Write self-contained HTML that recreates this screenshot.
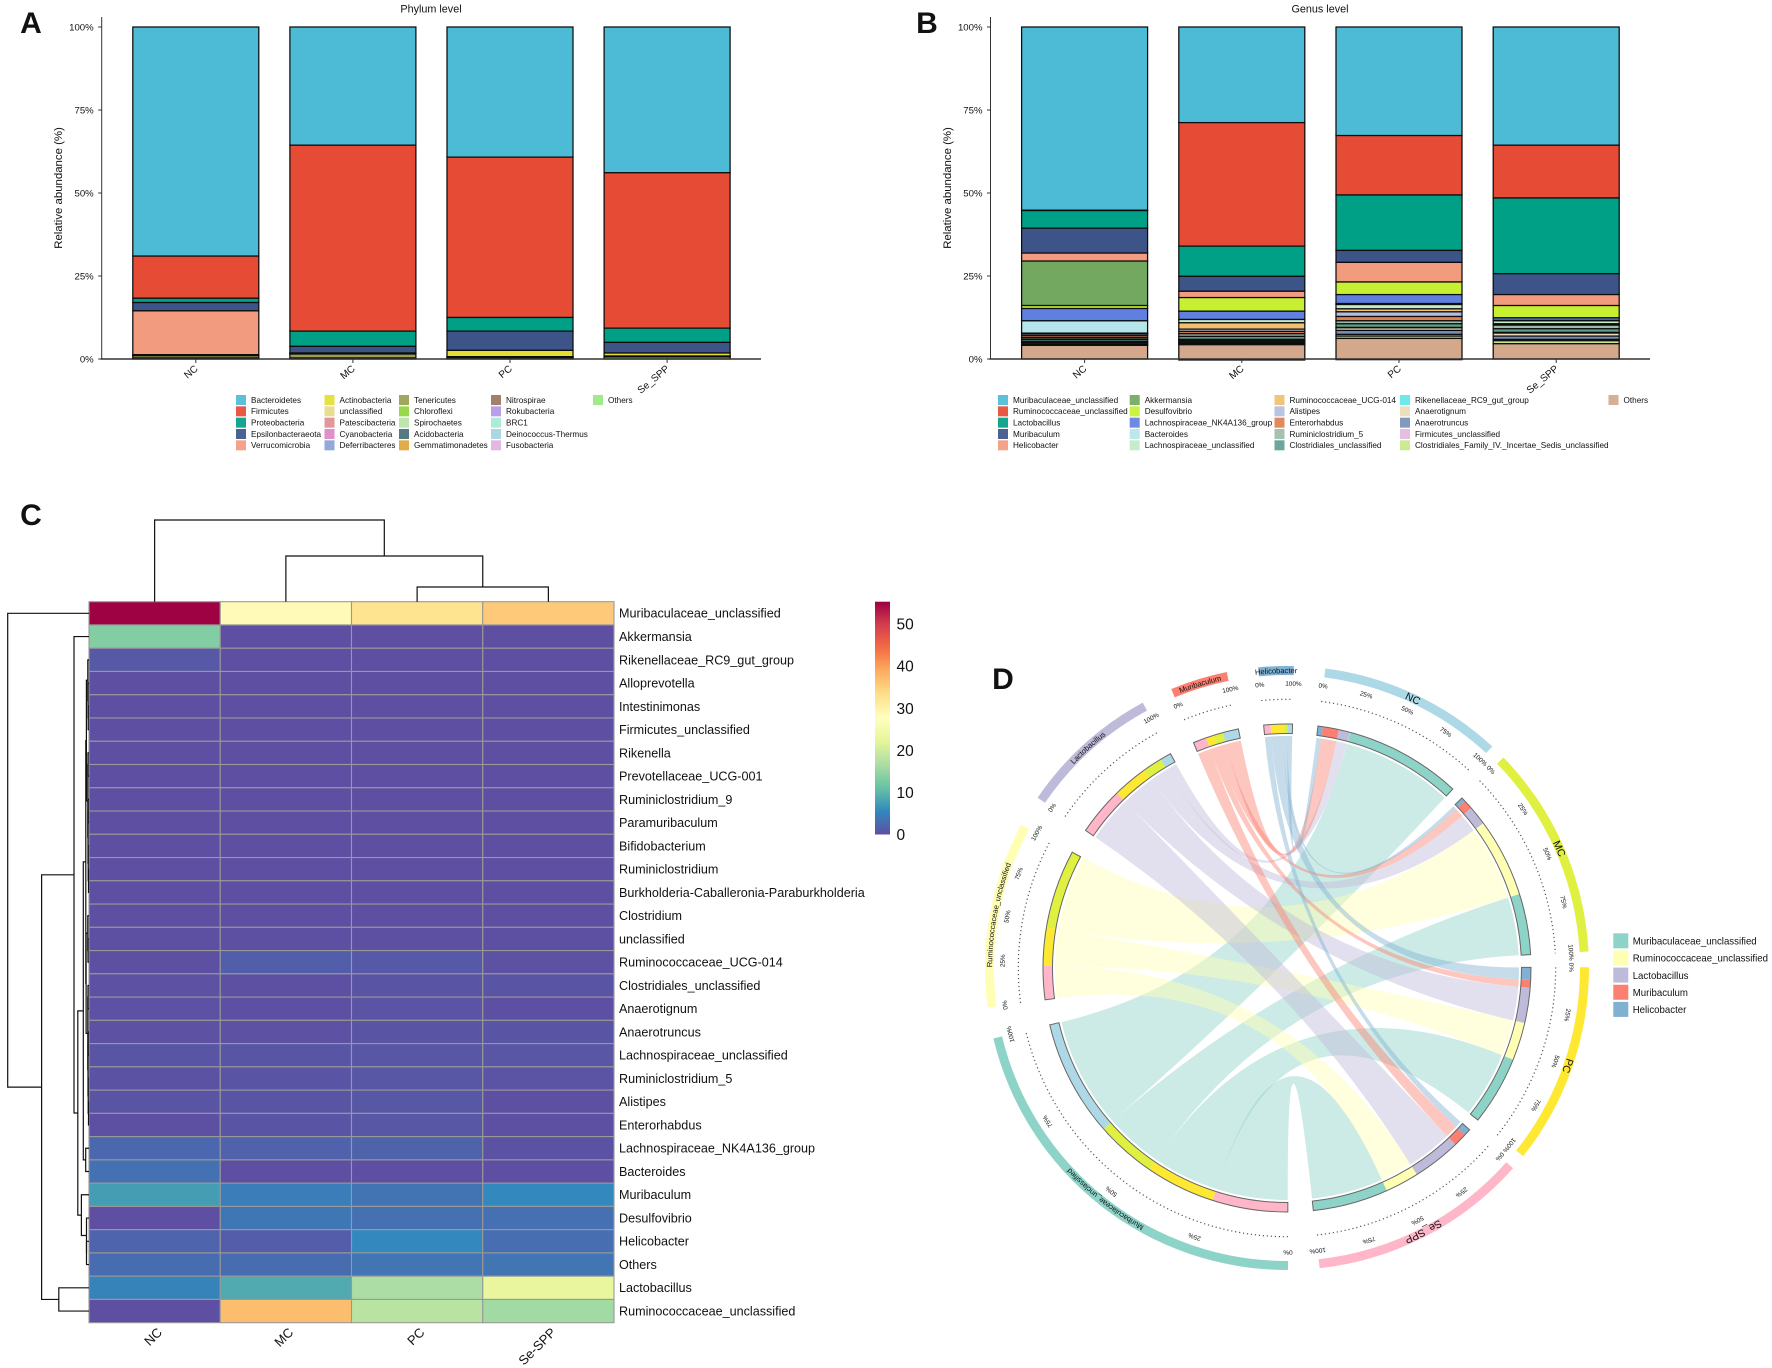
<!DOCTYPE html>
<html lang="en">
<head>
<meta charset="utf-8">
<title>Gut microbiota composition panels</title>
<style>
  html, body { margin: 0; padding: 0; background: #fff; }
  svg { display: block; font-family: "Liberation Sans", sans-serif; }
  text { fill: #111; }
</style>
</head>
<body>
<svg id="fig" xmlns="http://www.w3.org/2000/svg" width="1772" height="1368" viewBox="0 0 1772 1368">
  <rect width="1772" height="1368" fill="#fff"/>
  <defs id="defs"></defs>
  <text x="31" y="33" font-size="30" font-weight="bold" text-anchor="middle">A</text>
  <text x="927" y="33" font-size="30" font-weight="bold" text-anchor="middle">B</text>
  <text x="31" y="525" font-size="30" font-weight="bold" text-anchor="middle">C</text>
  <text x="1003" y="689" font-size="30" font-weight="bold" text-anchor="middle">D</text>
  <g id="panelA"></g>
  <g id="panelB"></g>
  <g id="panelC"></g>
  <g id="panelD"></g>
</svg>
<script>
/* ---------- Stacked bar data ---------- */
const sampleLabels = ['NC', 'MC', 'PC', 'Se_SPP'];
const percentTicks = [0, 25, 50, 75, 100];

const phylumNames = ['Bacteroidetes','Firmicutes','Proteobacteria','Epsilonbacteraeota','Verrucomicrobia','Actinobacteria','unclassified','Patescibacteria','Cyanobacteria','Deferribacteres','Tenericutes','Chloroflexi','Spirochaetes','Acidobacteria','Gemmatimonadetes','Nitrospirae','Rokubacteria','BRC1','Deinococcus-Thermus','Fusobacteria','Others'];
const phylumColors = ['#4DBBD5','#E64B35','#00A087','#3C5488','#F39B7F','#E3DE30','#E6DB8A','#E08E90','#DE86C6','#8AA2D6','#9A9F50','#8FD63C','#B8E2A8','#466F78','#DDA63A','#9A7560','#B596E8','#A2EBD5','#A5D3E3','#E0B2DD','#9AE87F'];
const phylumNC = [69.0,12.7,1.3,2.5,13.2,0.1,0.05,0.05,0,0.1,0.7,0,0.1,0,0,0,0,0,0,0,0.2];
const phylumMC = [35.6,56.0,4.6,2.0,0,0.1,0,0.1,0,0.1,1.2,0,0.1,0,0,0,0,0,0,0,0.2];
const phylumPC = [39.2,48.3,4.1,5.8,0,1.9,0,0,0,0.1,0.1,0,0.1,0,0,0,0,0,0,0,0.4];
const phylumSe = [43.9,46.8,4.3,3.2,0,0.9,0,0,0,0.1,0.1,0,0.1,0,0,0,0,0,0,0,0.6];

const genusNames = ['Muribaculaceae_unclassified','Ruminococcaceae_unclassified','Lactobacillus','Muribaculum','Helicobacter','Akkermansia','Desulfovibrio','Lachnospiraceae_NK4A136_group','Bacteroides','Lachnospiraceae_unclassified','Ruminococcaceae_UCG-014','Alistipes','Enterorhabdus','Ruminiclostridium_5','Clostridiales_unclassified','Rikenellaceae_RC9_gut_group','Anaerotignum','Anaerotruncus','Firmicutes_unclassified','Clostridiales_Family_IV._Incertae_Sedis_unclassified','Others'];
const genusColors = ['#4DBBD5','#E64B35','#00A087','#3C5488','#F39B7F','#72A85F','#C7F032','#6080E0','#B4E6EC','#C0ECC8','#F0C070','#B0C0E0','#E07F50','#A0BCA8','#5FA090','#60E8E8','#EADCB8','#7890B8','#E4B8E0','#C8E888','#D4A88A'];
const genusNC = [55.2,0.1,5.3,7.5,2.4,13.4,0.9,3.7,3.7,0.2,0.1,0.5,0.6,0.5,0.6,0.2,0.2,0.4,0.3,0.1,4.1];
const genusMC = [28.8,37.2,9.1,4.5,1.9,0,4.1,2.5,0,1.0,1.9,0.7,0.7,0.8,0.9,0.2,0.3,0.4,0.3,0.4,4.6];
const genusPC = [32.7,17.9,16.7,3.6,5.9,0,3.8,2.7,0.3,1.3,0.9,1.4,1.3,0.9,1.1,0.1,0.8,1.2,0.5,0.7,6.4];
const genusSe = [35.6,15.9,22.8,6.3,3.3,0,3.7,0.8,0.1,0.9,0.2,0.1,0.1,1.1,1.1,0.2,0.9,1.0,0.4,0.9,4.6];

/* ---------- Heatmap data ---------- */
const heatRowNames = ['Muribaculaceae_unclassified','Akkermansia','Rikenellaceae_RC9_gut_group','Alloprevotella','Intestinimonas','Firmicutes_unclassified','Rikenella','Prevotellaceae_UCG-001','Ruminiclostridium_9','Paramuribaculum','Bifidobacterium','Ruminiclostridium','Burkholderia-Caballeronia-Paraburkholderia','Clostridium','unclassified','Ruminococcaceae_UCG-014','Clostridiales_unclassified','Anaerotignum','Anaerotruncus','Lachnospiraceae_unclassified','Ruminiclostridium_5','Alistipes','Enterorhabdus','Lachnospiraceae_NK4A136_group','Bacteroides','Muribaculum','Desulfovibrio','Helicobacter','Others','Lactobacillus','Ruminococcaceae_unclassified'];
const heatColNames = ['NC', 'MC', 'PC', 'Se-SPP'];
const heatNC = [55.2,13.4,0.9,0,0,0,0,0,0,0,0,0,0,0,0.1,0.1,0.2,0.2,0.2,0.6,0.3,0.5,0.1,2.4,3.3,7.5,0,2.0,2.9,5.0,0];
const heatMC = [28.5,0,0,0,0,0,0,0,0,0,0,0,0,0,0.1,1.5,0.1,0.1,0.2,0.6,0.5,0.5,0.5,1.8,0,4.5,3.9,1.4,2.9,8.8,37.0];
const heatPC = [32.7,0,0,0,0,0,0,0,0,0,0,0,0,0,0.1,1.0,0.5,0.4,0.5,0.8,0.8,0.8,0.8,1.9,0,3.5,3.2,5.6,3.7,16.6,17.9];
const heatSe = [35.6,0,0,0,0,0,0,0,0,0,0,0,0,0,0.1,0.2,0.5,0.1,0.5,0.7,0.4,0.1,0.1,0.3,0,5.6,3.2,3.0,3.7,22.8,15.9];
const heatLegendTicks = [0, 10, 20, 30, 40, 50];
const heatMax = 55.3;
const spectralStops = ['#5E4FA2','#3288BD','#66C2A5','#ABDDA4','#E6F598','#FFFFBF','#FEE08B','#FDAE61','#F46D43','#D53E4F','#9E0142'];

/* Dendrograms: [merge distance, childA, childB]; a bare number is a leaf index */
const colTree = [81.7, 0, [45.7, 1, [14.7, 2, 3]]];
const rowGroupSmall = [3.2,
  [2.6, [1.2, 2, [1.0, 3, [0.8, 4, 5]]], [1.2, [1, 6, 7], [1, [0.8, 8, 9], [0.8, 10, [0.5, 11, 12]]]]],
  [2.9, [1.2, 13, [1, 14, 15]], [1.2, [1, 16, 17], [1, [0.8, 18, 19], [0.8, 20, [0.5, 21, 22]]]]]];
const rowTree = [81.3, 0, [47.4, [15, 1, [11.2, [5.7, rowGroupSmall, [3.3, 23, 24]], [7.6, 25, [2.5, 26, [2.5, 27, 28]]]]], [30.2, 29, 30]]];

/* ---------- Chord data (same relative abundances as panel B) ---------- */
const chordGroups = ['NC', 'MC', 'PC', 'Se_SPP'];
const chordGenera = ['Muribaculaceae_unclassified','Ruminococcaceae_unclassified','Lactobacillus','Muribaculum','Helicobacter'];
const chordMuribaculaceae = [55.2, 28.8, 32.7, 35.6];
const chordRuminococcaceae = [0.1, 37.2, 17.9, 15.9];
const chordLactobacillus = [5.3, 9.1, 16.7, 22.8];
const chordMuribaculum = [7.5, 4.5, 3.6, 6.3];
const chordHelicobacter = [2.4, 1.9, 5.9, 3.3];
const chordGroupColors = ['#ADD8E6', '#DFF040', '#FFE832', '#FFB6C8'];
const chordGenusColors = ['#8DD3C7', '#FFFFB3', '#BEBADA', '#FB8072', '#80B1D3'];

/* ---------- Helpers ---------- */
const NS = 'http://www.w3.org/2000/svg';
function mk(tag, attrs, parent, txt) {
  const e = document.createElementNS(NS, tag);
  for (const k in attrs) e.setAttribute(k, attrs[k]);
  if (txt !== undefined) e.textContent = txt;
  if (parent) parent.appendChild(e);
  return e;
}
const slug = s => String(s).toLowerCase().replace(/[^a-z0-9]+/g, '-').replace(/^-|-$/g, '');

/* ---------- Panels A & B ---------- */
const yTop = 27, yBottom = 359;
const yPct = p => yBottom - (p / 100) * (yBottom - yTop);

function drawStackPanel(root, o) {
  const xBar = i => o.barStart + i * o.barStep + o.barWidth / 2;

  const title = mk('text', {x: o.titleX, y: 12.5, 'font-size': 10.8, 'text-anchor': 'middle'}, root, o.title);
  
  

  o.samples.forEach((vals, i) => {
    let cum = 100;
    vals.forEach((v, s) => {
      const rect = mk('rect', {x: xBar(i) - o.barWidth / 2, y: yPct(cum), width: o.barWidth, height: yPct(cum - v) - yPct(cum), fill: o.colors[s], stroke: '#0c0c0c', 'stroke-width': 1.25}, root);
      
      
      cum -= v;
    });
  });

  const yAxis = mk('line', {x1: o.axisX, x2: o.axisX, y1: 17, y2: yBottom, stroke: '#333', 'stroke-width': 1}, root);
  
  
  const xAxis = mk('line', {x1: o.axisX - 1, x2: o.axisEnd, y1: yBottom, y2: yBottom, stroke: '#333', 'stroke-width': 1.6}, root);
  
  

  percentTicks.forEach(t => {
    const tk = mk('line', {x1: o.axisX - 3.5, x2: o.axisX, y1: yPct(t), y2: yPct(t), stroke: '#333', 'stroke-width': 1}, root);
    
    
    const lb = mk('text', {x: o.axisX - 8, y: yPct(t), dy: '.35em', 'font-size': 9.6, 'text-anchor': 'end'}, root, t + '%');
    
    
  });

  const yt = mk('text', {transform: 'translate(' + o.yTitleX + ',188) rotate(-90)', 'font-size': 11.4, 'text-anchor': 'middle', dy: '.35em', fill: '#222'}, root, 'Relative abundance (%)');
  
  

  sampleLabels.forEach((lab, i) => {
    const tk = mk('line', {x1: xBar(i), x2: xBar(i), y1: yBottom, y2: yBottom + 4, stroke: '#333', 'stroke-width': 1}, root);
    
    
    const lb = mk('text', {transform: 'translate(' + (xBar(i) + 0.5) + ',367) rotate(-40)', dy: '.35em', 'font-size': 10, 'text-anchor': 'end'}, root, lab);
    
    
  });

  o.names.forEach((n, s) => {
    const col = Math.floor(s / 5), row = s % 5;
    const cy = 400 + row * 11.33;
    const sw = mk('rect', {x: o.legendX[col], y: cy - 5, width: 10, height: 10, fill: o.colors[s], opacity: 0.92}, root);
    
    
    const tx = mk('text', {x: o.legendX[col] + 15, y: cy, dy: '.35em', 'font-size': 8.2}, root, n);
    
    
  });
}

drawStackPanel(document.getElementById('panelA'), {
  title: 'Phylum level', titleX: 431, names: phylumNames, colors: phylumColors,
  samples: [phylumNC, phylumMC, phylumPC, phylumSe],
  barStart: 132.8, barStep: 157.1, barWidth: 126, axisX: 101.7, axisEnd: 761, yTitleX: 58,
  legendX: [236, 324.5, 399, 491, 593]
});
drawStackPanel(document.getElementById('panelB'), {
  title: 'Genus level', titleX: 1320, names: genusNames, colors: genusColors,
  samples: [genusNC, genusMC, genusPC, genusSe],
  barStart: 1021.6, barStep: 157.2, barWidth: 126, axisX: 990.5, axisEnd: 1650, yTitleX: 947,
  legendX: [998, 1129.7, 1274.5, 1400, 1608.5]
});

/* ---------- Panel C ---------- */
const hmLeft = 89, hmRight = 614, hmTop = 601.7, hmBottom = 1322.7;
const heatCols = [heatNC, heatMC, heatPC, heatSe];
const rowH = (hmBottom - hmTop) / heatRowNames.length;
const colW = (hmRight - hmLeft) / heatColNames.length;
const rowY = i => hmTop + rowH * (i + 0.5);
const colX = i => hmLeft + colW * (i + 0.5);

function hexRgb(h) { return [1, 3, 5].map(i => parseInt(h.substr(i, 2), 16)); }
function heatColor(v) {
  const t = Math.max(0, Math.min(1, v / heatMax)) * (spectralStops.length - 1);
  const i = Math.min(Math.floor(t), spectralStops.length - 2);
  const a = hexRgb(spectralStops[i]), b = hexRgb(spectralStops[i + 1]), f = t - i;
  return 'rgb(' + a.map((c, k) => Math.round(c + (b[k] - c) * f)).join(',') + ')';
}

(function drawHeat() {
  const root = document.getElementById('panelC');

  heatRowNames.forEach((name, r) => {
    heatCols.forEach((col, c) => {
      const cell = mk('rect', {x: hmLeft + c * colW, y: hmTop + r * rowH, width: colW, height: rowH, fill: heatColor(col[r]), stroke: '#999', 'stroke-width': 1.1}, root);
      
      
    });
    const lb = mk('text', {x: 619, y: rowY(r), dy: '.35em', 'font-size': 12.6}, root, name);
    
    
  });

  heatColNames.forEach((name, c) => {
    const lb = mk('text', {transform: 'translate(' + (colX(c) + 5) + ',1330) rotate(-45)', dy: '.35em', 'font-size': 13, 'text-anchor': 'end'}, root, name);
    
    
  });

  function treeLine(d, nm) {
    const p = mk('path', {d: d, fill: 'none', stroke: '#111', 'stroke-width': 1.2}, root);
    
    
  }
  function walkCol(n) {
    if (typeof n === 'number') return {x: colX(n), y: hmTop};
    const a = walkCol(n[1]), b = walkCol(n[2]);
    const y = hmTop - n[0];
    treeLine('M' + a.x + ' ' + a.y + 'V' + y + 'H' + b.x + 'V' + b.y, 'column-dendrogram-branch');
    return {x: (a.x + b.x) / 2, y: y};
  }
  function walkRow(n) {
    if (typeof n === 'number') return {x: hmLeft, y: rowY(n)};
    const a = walkRow(n[1]), b = walkRow(n[2]);
    const x = hmLeft - n[0];
    treeLine('M' + a.x + ' ' + a.y + 'H' + x + 'V' + b.y + 'H' + b.x, 'row-dendrogram-branch');
    return {x: x, y: (a.y + b.y) / 2};
  }
  walkCol(colTree);
  walkRow(rowTree);

  const defs = document.getElementById('defs');
  const grad = mk('linearGradient', {id: 'heatGrad', x1: 0, x2: 0, y1: 1, y2: 0}, defs);
  spectralStops.forEach((c, i) => mk('stop', {offset: i / (spectralStops.length - 1), 'stop-color': c}, grad));
  const cbTop = 601.7, cbBottom = 834.5;
  const bar = mk('rect', {x: 875, y: cbTop, width: 15, height: cbBottom - cbTop, fill: 'url(#heatGrad)'}, root);
  
  
  heatLegendTicks.forEach(t => {
    const y = cbBottom - (t / heatMax) * (cbBottom - cbTop);
    const lb = mk('text', {x: 896.5, y: y, dy: '.36em', 'font-size': 15.5}, root, String(t));
    
    
  });
})();

/* ---------- Panel D ---------- */
(function drawChord() {
  const root = document.getElementById('panelD');
  const defs = document.getElementById('defs');
  const cx = 1287, cy = 968;
  const matrix = [chordMuribaculaceae, chordRuminococcaceae, chordLactobacillus, chordMuribaculum, chordHelicobacter];
  const sum = a => a.reduce((s, v) => s + v, 0);
  const groupTotals = chordGroups.map((_, g) => sum(matrix.map(r => r[g])));
  const genusTotals = matrix.map(sum);
  const sectors = [];
  chordGroups.forEach((n, i) => sectors.push({name: n, total: groupTotals[i], color: chordGroupColors[i], kind: 'group', idx: i, gap: i < 3 ? 3 : 6, big: true, fs: 10.5}));
  chordGenera.forEach((n, i) => sectors.push({name: n, total: genusTotals[i], color: chordGenusColors[i], kind: 'genus', idx: i, gap: 6, big: i < 2, fs: i < 1 ? 7.4 : 7.6}));
  const totalGap = sectors.reduce((s, x) => s + x.gap, 0);
  const totalUnits = sum(sectors.map(s => s.total));
  const dpu = (360 - totalGap) / totalUnits;
  let ang = 277.3;
  sectors.forEach(s => { s.a0 = ang; s.a1 = ang + s.total * dpu; ang = s.a1 + s.gap; });

  const pt = (deg, r) => { const t = deg * Math.PI / 180; return [cx + r * Math.cos(t), cy + r * Math.sin(t)]; };
  const f = v => v.toFixed(2);
  const arcTo = (a0, a1, r) => { const p = pt(a1, r); return 'A' + r + ' ' + r + ' 0 ' + ((a1 - a0) > 180 ? 1 : 0) + ' 1 ' + f(p[0]) + ' ' + f(p[1]); };
  function band(a0, a1, r0, r1) {
    const p0 = pt(a0, r1), p1 = pt(a1, r0);
    const back = pt(a0, r0);
    return 'M' + f(p0[0]) + ' ' + f(p0[1]) + arcTo(a0, a1, r1) + 'L' + f(p1[0]) + ' ' + f(p1[1]) + 'A' + r0 + ' ' + r0 + ' 0 ' + ((a1 - a0) > 180 ? 1 : 0) + ' 0 ' + f(back[0]) + ' ' + f(back[1]) + 'Z';
  }

  /* allocate sub-sector angles */
  const groupSeg = sectors.slice(0, 4).map(s => {
    const out = {}; let a = s.a0;
    [4, 3, 2, 1, 0].forEach(g => { const w = matrix[g][s.idx] * dpu; out[g] = [a, a + w]; a += w; });
    return out;
  });
  const genusSeg = sectors.slice(4).map(s => {
    const out = {}; let a = s.a0;
    [3, 2, 1, 0].forEach(g => { const w = matrix[s.idx][g] * dpu; out[g] = [a, a + w]; a += w; });
    return out;
  });

  /* chords */
  const rc = 232;
  matrix.forEach((row, g) => {
    row.forEach((v, s) => {
      const A = groupSeg[s][g], B = genusSeg[g][s];
      const p0 = pt(A[0], rc), b0 = pt(B[0], rc);
      const d = 'M' + f(p0[0]) + ' ' + f(p0[1]) + arcTo(A[0], A[1], rc) +
        'Q' + cx + ' ' + cy + ' ' + f(b0[0]) + ' ' + f(b0[1]) + arcTo(B[0], B[1], rc) +
        'Q' + cx + ' ' + cy + ' ' + f(p0[0]) + ' ' + f(p0[1]) + 'Z';
      const ch = mk('path', {d: d, fill: chordGenusColors[g], 'fill-opacity': 0.45}, root);
      
      
    });
  });

  /* tracks */
  sectors.forEach((s, si) => {
    if (s.kind === 'group') {
      [4, 3, 2, 1, 0].forEach(g => {
        const a = groupSeg[s.idx][g];
        const seg = mk('path', {d: band(a[0], a[1], 234.5, 244), fill: chordGenusColors[g]}, root);
        
        
      });
    } else {
      [3, 2, 1, 0].forEach(g => {
        const a = genusSeg[s.idx][g];
        const seg = mk('path', {d: band(a[0], a[1], 234.5, 244), fill: chordGroupColors[g]}, root);
        
        
      });
    }
    const outline = mk('path', {d: band(s.a0, s.a1, 234.5, 244), fill: 'none', stroke: '#666', 'stroke-width': 1}, root);
    
    

    /* dotted axis */
    const ds = pt(s.a0, 268.7);
    const dots = mk('path', {d: 'M' + f(ds[0]) + ' ' + f(ds[1]) + arcTo(s.a0, s.a1, 268.7), fill: 'none', stroke: '#555', 'stroke-width': 1.2, 'stroke-dasharray': '1.2 2.8'}, root);
    
    

    /* tick labels */
    const sectorTicks = (s.big) ? percentTicks : [0, 100];
    sectorTicks.forEach(t => {
      const a = s.a0 + (s.a1 - s.a0) * t / 100;
      const p = pt(a, 284.5);
      const lb = mk('text', {transform: 'translate(' + f(p[0]) + ',' + f(p[1]) + ') rotate(' + f(a + 90) + ')', dy: '.35em', 'font-size': 6.4, 'text-anchor': 'middle', fill: '#222'}, root, t + '%');
      
      
    });

    /* outer band + curved name */
    const ob = mk('path', {d: band(s.a0, s.a1, 293, 302), fill: s.color}, root);
    
    
    const pid = 'labelArc' + si;
    const tp0 = pt(s.a0 - 10, 297.5);
    mk('path', {id: pid, d: 'M' + f(tp0[0]) + ' ' + f(tp0[1]) + arcTo(s.a0 - 10, s.a1 + 10, 297.5), fill: 'none'}, defs);
    const tx = mk('text', {'font-size': s.fs, dy: '.35em', 'text-anchor': 'middle'}, root);
    
    
    mk('textPath', {href: '#' + pid, startOffset: '50%'}, tx, s.name);
  });

  /* legend */
  chordGenera.forEach((n, i) => {
    const y = 933.3 + i * 17.15;
    const sw = mk('rect', {x: 1613.3, y: y, width: 15, height: 15, fill: chordGenusColors[i]}, root);
    
    
    const tx = mk('text', {x: 1632.7, y: y + 7.8, dy: '.35em', 'font-size': 9.66}, root, n);
    
    
  });
})();
</script>
</body>
</html>
